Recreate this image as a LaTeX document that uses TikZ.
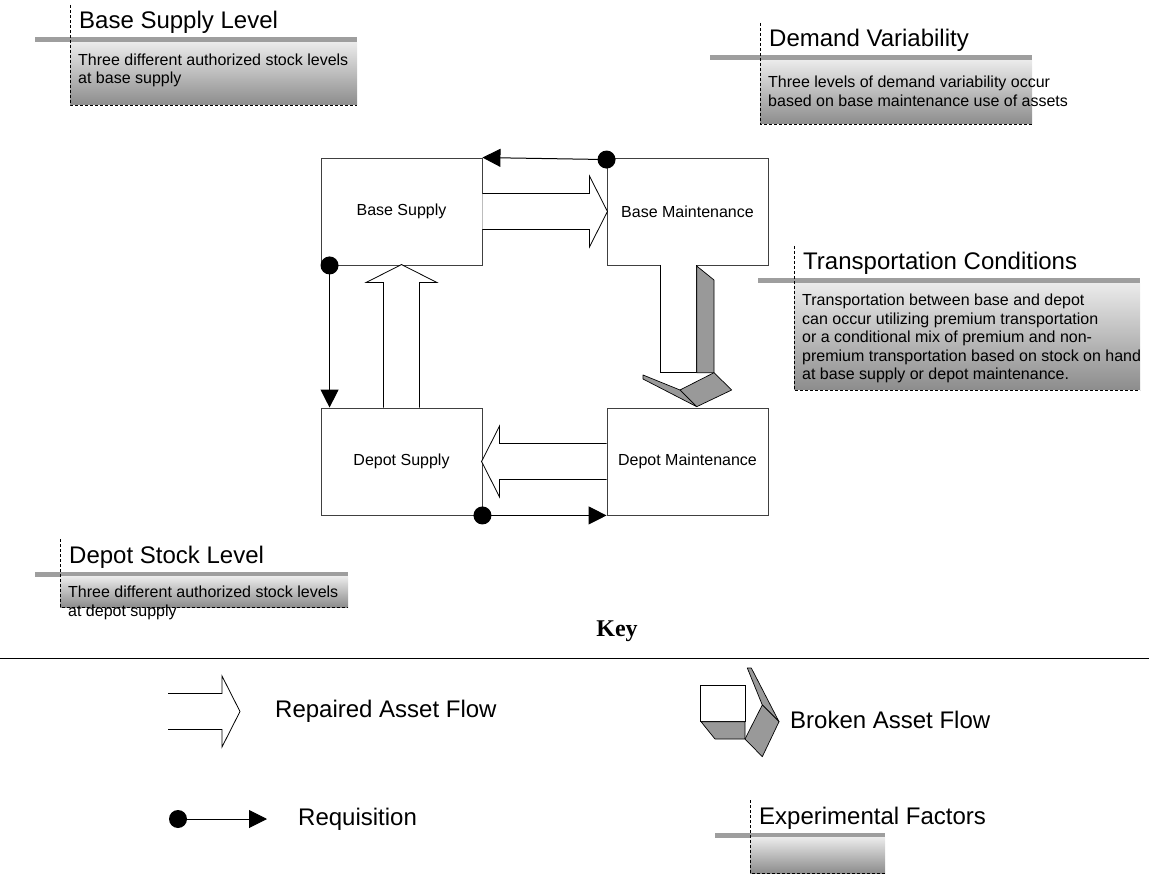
\documentclass[tikz,border=0pt]{standalone}
\usepackage{fontspec}
\setmainfont{Liberation Sans}
\newfontfamily\keyserif{Liberation Serif}
\usetikzlibrary{arrows.meta}

\tikzset{
    unit/.style={draw=black!75, line width=0.9pt, minimum width=161pt, minimum height=107pt, inner sep=0pt, font=\fontsize{16}{19}\selectfont},
    req/.style={line width=1pt, -{Triangle[length=18pt,width=18pt]}},
    flowline/.style={draw=black, line width=0.8pt, fill=white},
    brokenface/.style={draw=black, line width=0.7pt, fill=black!40, line join=round},
    factordash/.style={line width=0.8pt, dash pattern=on 3pt off 2pt},
    factortitle/.style={anchor=base west, inner sep=0pt, font=\fontsize{24}{28}\selectfont},
    factortext/.style={anchor=north west, inner sep=0pt, align=left, font=\fontsize{16}{18.5}\selectfont},
    keytext/.style={anchor=west, inner sep=0pt, font=\fontsize{24}{28}\selectfont},
    pics/repflow/.style={code={
        \draw[flowline] (0,-18) -- (#1-18,-18) -- (#1-18,-35.5) -- (#1,0) -- (#1-18,35.5) -- (#1-18,18) -- (0,18);
    }},
}

% experimental factor callout: name, dash x, bar y, bar left, right, bottom, title, text, text offset
\newcommand\factorbox[9]{%
    \fill[black!38] (#4,#3-2.5) rectangle (#5,#3+2.5);
    \shade[top color=black!8, bottom color=black!45] (#2,#3+2.5) rectangle (#5,#6);
    \draw[factordash] (#2,#3-35) -- (#2,#6) -- (#5,#6);
    \node[factortitle] (#1-title) at (#2+9,#3-11) {#7};
    \node[factortext] (#1-text) at (#2+8,#3+#9) {#8};
}

\begin{document}
\begin{tikzpicture}[x=1pt, y=-1pt]
    \useasboundingbox (0,0) rectangle (1149,890);

    % factors
    \factorbox{bsl}{70}{40}{35}{357}{105}{Base Supply Level}{Three different authorized stock levels\\at base supply}{13.5}
    \factorbox{dv}{760}{58}{710}{1032}{124}{Demand Variability}{Three levels of demand variability occur\\based on base maintenance use of assets}{18}
    \factorbox{tc}{794}{281}{758}{1140}{390}{Transportation Conditions}{Transportation between base and depot\\can occur utilizing premium transportation\\or a conditional mix of premium and non-\\premium transportation based on stock on hand\\at base supply or depot maintenance.}{13}
    \factorbox{dsl}{60}{574}{35}{348}{607}{Depot Stock Level}{Three different authorized stock levels\\at depot supply}{12}

    % units
    \node[unit] (bs) at (401.5,211.5) {Base Supply};
    \node[unit] (bm) at (687.5,211.5) {Base Maintenance};
    \node[unit] (ds) at (401.5,461.5) {Depot Supply};
    \node[unit] (dm) at (687.5,461.5) {Depot Maintenance};

    % repaired asset flow
    \pic at (bs.east) {repflow=125};
    \pic[rotate=90] at (ds.north) {repflow=143};
    \pic[rotate=180] at (dm.west) {repflow=125};

    % broken asset flow
    \begin{scope}[shift={(660,265)}]
        \draw[flowline] (0,0) -- (0,107.7) -- (36.7,107.7) -- (36.7,0);
        \draw[brokenface] (36.7,1) -- (54,15) -- (54,107.7) -- (36.7,107.7) -- cycle;
        \draw[brokenface] (-17,110) -- (20,125) -- (36.7,141.7) -- (-17,114) -- cycle;
        \draw[brokenface] (20,125) -- (54,107.7) -- (71.7,125) -- (36.7,141.7) -- cycle;
    \end{scope}

    % requisitions
    \coordinate (q1) at ([yshift=-2pt]bm.north west);
    \fill (q1) circle (9pt);
    \draw[req] (q1) -- (bs.north east);
    \coordinate (q2) at ([xshift=9pt]bs.south west);
    \fill (q2) circle (9pt);
    \draw[req] (q2) -- (q2 |- ds.north);
    \fill (ds.south east) circle (9pt);
    \draw[req] (ds.south east) -- (dm.south west);

    % key
    \node[font=\keyserif\bfseries\fontsize{24}{28}\selectfont] (key) at (617,631) {Key};
    \coordinate (kl) at (0,658);
    \coordinate (kr) at (1149,658);
    \draw[line width=0.8pt] (kl) -- (kr);

    \pic at (168,711.5) {repflow=72};
    \node[keytext] (krep) at (275,711.5) {Repaired Asset Flow};

    \begin{scope}[shift={(700,685)}]
        \draw[flowline] (0,0) -- (45,0) -- (45,36.7) -- (0,36.7) -- cycle;
        \draw[brokenface] (1,36.7) -- (15,54) -- (45,54) -- (45,36.7) -- cycle;
        \draw[brokenface] (47.3,-17) -- (62.3,20) -- (79,36.7) -- (51.3,-17) -- cycle;
        \draw[brokenface] (62.3,20) -- (45,54) -- (62.3,71.7) -- (79,36.7) -- cycle;
    \end{scope}
    \node[keytext] (kbrk) at (790,720) {Broken Asset Flow};

    \coordinate (kqa) at (178,819);
    \coordinate (kqb) at (267,819);
    \fill (kqa) circle (9pt);
    \draw[req] (kqa) -- (kqb);
    \node[keytext] (kreq) at (298,819) {Requisition};

    \factorbox{ef}{750}{835}{715}{885}{873}{Experimental Factors}{}{13}
\end{tikzpicture}
\end{document}
